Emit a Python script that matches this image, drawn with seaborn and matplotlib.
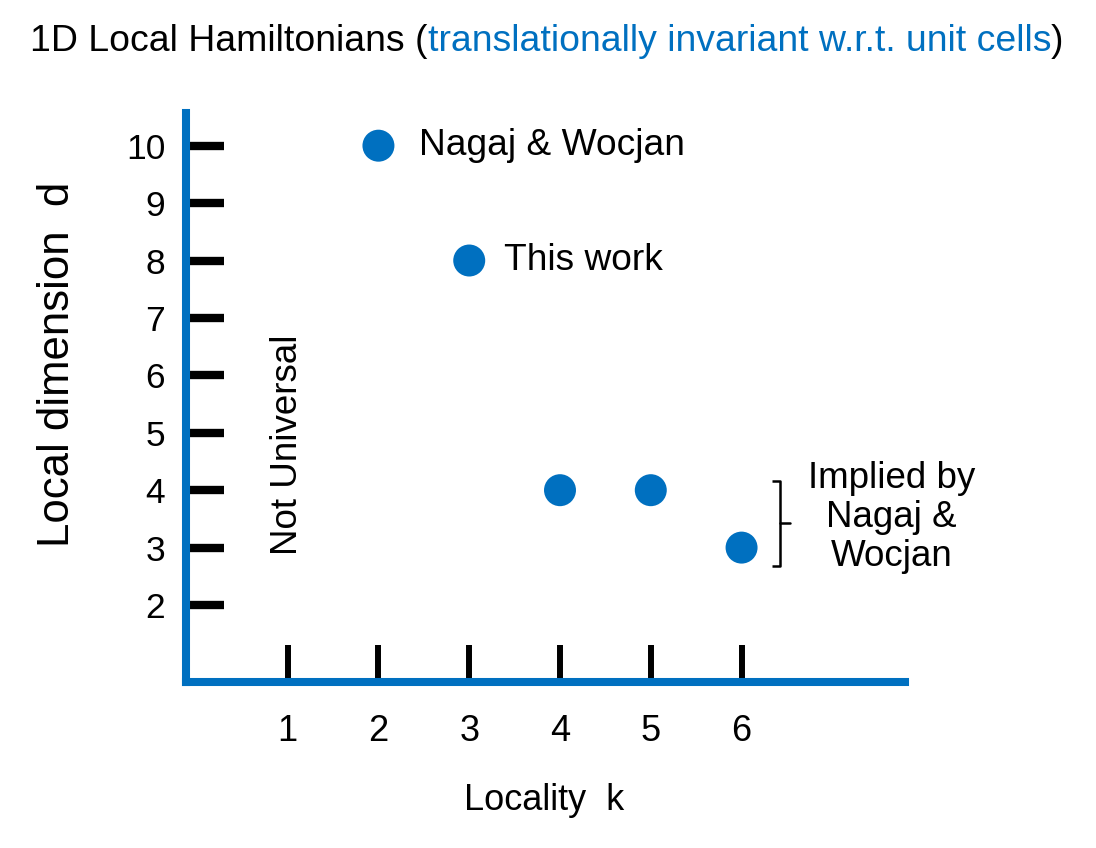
import numpy as np
import pandas as pd
import matplotlib.pyplot as plt
import seaborn as sns

# data
locality = [2, 3, 4, 5, 6]
local_dim = [10, 8, 4, 4, 3]
point_labels = ['Nagaj & Wocjan', 'This work', '', '', '']
x_ticks = [1, 2, 3, 4, 5, 6]
y_ticks = [2, 3, 4, 5, 6, 7, 8, 9, 10]

blue = '#0070C0'

df = pd.DataFrame({'k': locality, 'd': local_dim, 'label': point_labels})

sns.set_theme(style='white', rc={'text.color': 'black', 'xtick.color': 'black',
                                 'ytick.color': 'black', 'axes.labelcolor': 'black'})
plt.rcParams['font.family'] = ['Liberation Sans', 'DejaVu Sans']

fig = plt.figure(figsize=(10.96, 8.48), dpi=100)
ax = fig.add_axes([0.1697, 0.1958, 0.656, 0.671])

sns.scatterplot(data=df, x='k', y='d', s=530, color=blue, edgecolor='none',
                ax=ax, zorder=3, clip_on=False, legend=False)

ax.set_xlim(-0.12, 7.8)
ax.set_ylim(0.66, 10.57)
ax.set_xticks(x_ticks)
ax.set_yticks(y_ticks)
ax.set_xlabel('')
ax.set_ylabel('')

for side in ['top', 'right']:
    ax.spines[side].set_visible(False)
for side in ['left', 'bottom']:
    ax.spines[side].set_color(blue)
    ax.spines[side].set_linewidth(5.8)

ax.tick_params(axis='x', direction='in', length=27, width=4.3, color='black',
               labelcolor='black', pad=23, labelsize=26, bottom=True)
ax.tick_params(axis='y', direction='in', length=27, width=6, color='black',
               labelcolor='black', pad=15, labelsize=25.5, left=True)

# point annotations
offsets = [29, 25]
for i, row in df.iterrows():
    if row['label']:
        ax.annotate(row['label'], (row['k'], row['d']), xytext=(offsets[i], 0),
                    textcoords='offset points', ha='left', va='center',
                    fontsize=26.7, color='black')

ax.text(1.0, 4.8, 'Not Universal', rotation=90, ha='center', va='center',
        fontsize=26.5, color='black')

# bracket for the implied points
bx, btop, bbot = 6.42, 4.16, 2.68
ax.plot([bx - 0.09, bx, bx, bx - 0.09], [btop, btop, bbot, bbot],
        color='black', lw=1.8, clip_on=False, solid_capstyle='butt')
ax.plot([bx, bx + 0.11], [(btop + bbot) / 2, (btop + bbot) / 2],
        color='black', lw=1.8, clip_on=False)
ax.text(7.65, 3.52, 'Implied by\nNagaj &\nWocjan', ha='center', va='center',
        fontsize=26.5, linespacing=1.15, color='black')

# axis labels
fig.text(544 / 1096, 1 - 800 / 848, 'Locality  k', ha='center', va='center',
         fontsize=26, color='black')
fig.text(58 / 1096, 1 - 364 / 848, 'Local dimension  d', rotation=90,
         ha='center', va='center', fontsize=31.5, color='black')

# two-colour title
t1 = fig.text(30 / 1096, 1 - 51 / 848, '1D Local Hamiltonians (', fontsize=26.9,
              ha='left', va='baseline', color='black')
t2 = ax.annotate('translationally invariant w.r.t. unit cells', xy=(1, 0),
                 xycoords=t1, ha='left', va='bottom', fontsize=26.9, color=blue,
                 annotation_clip=False)
ax.annotate(')', xy=(1, 0), xycoords=t2, ha='left', va='bottom', fontsize=26.9,
            color='black', annotation_clip=False)

fig.savefig('out.png', dpi=100)
